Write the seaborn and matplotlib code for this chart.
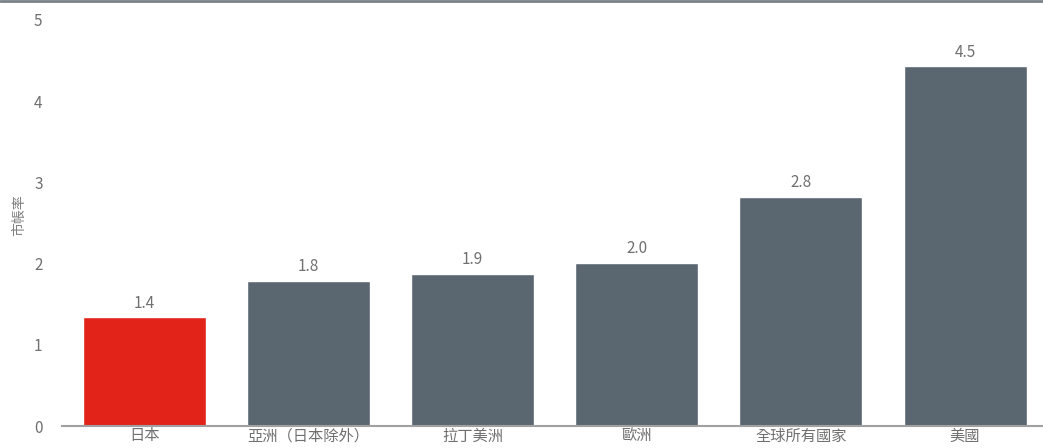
import seaborn as sns
import matplotlib.pyplot as plt
import matplotlib.lines as mlines
import pandas as pd

# 各地區市帳率
regions = ["日本", "亞洲（日本除外）", "拉丁美洲", "歐洲", "全球所有國家", "美國"]
pb_ratio = [1.34, 1.79, 1.87, 2.01, 2.82, 4.43]
value_labels = ["1.4", "1.8", "1.9", "2.0", "2.8", "4.5"]
colors = ["#E2231A", "#5B6770", "#5B6770", "#5B6770", "#5B6770", "#5B6770"]

df = pd.DataFrame({"region": regions, "pb": pb_ratio})

sns.set_style("white")
plt.rcParams["font.family"] = ["Noto Sans CJK TC", "DejaVu Sans"]

fig = plt.figure(figsize=(10.43, 4.48), dpi=100)
ax = fig.add_axes([62 / 1043, 22 / 448, 1 - 62 / 1043 + 0.004, 406 / 448])

sns.barplot(data=df, x="region", y="pb", hue="region", palette=colors,
            width=0.75, legend=False, ax=ax, saturation=1)

for i, (v, lab) in enumerate(zip(pb_ratio, value_labels)):
    ax.text(i, v + 0.07, lab, ha="center", va="bottom", fontsize=11,
            color="#707070")

ax.set_ylim(0, 5)
ax.set_xlim(-0.5, 5.5)
ax.set_yticks(range(6))
ax.set_xlabel("")
ax.set_ylabel("市帳率", fontsize=10, color="#808080")
ax.yaxis.set_label_coords(-0.036, 0.52)
ax.tick_params(axis="both", length=0, colors="#707070")
ax.tick_params(axis="y", labelsize=11, pad=14)
ax.tick_params(axis="x", labelsize=11, pad=1)

for s in ["top", "right", "left"]:
    ax.spines[s].set_visible(False)
ax.spines["bottom"].set_color("#A0A0A0")
ax.spines["bottom"].set_linewidth(1.5)

# 頂部灰線
fig.add_artist(mlines.Line2D([0, 1], [0.998, 0.998], transform=fig.transFigure,
                             color="#7A8288", linewidth=2))

fig.savefig("out.png", dpi=100)
